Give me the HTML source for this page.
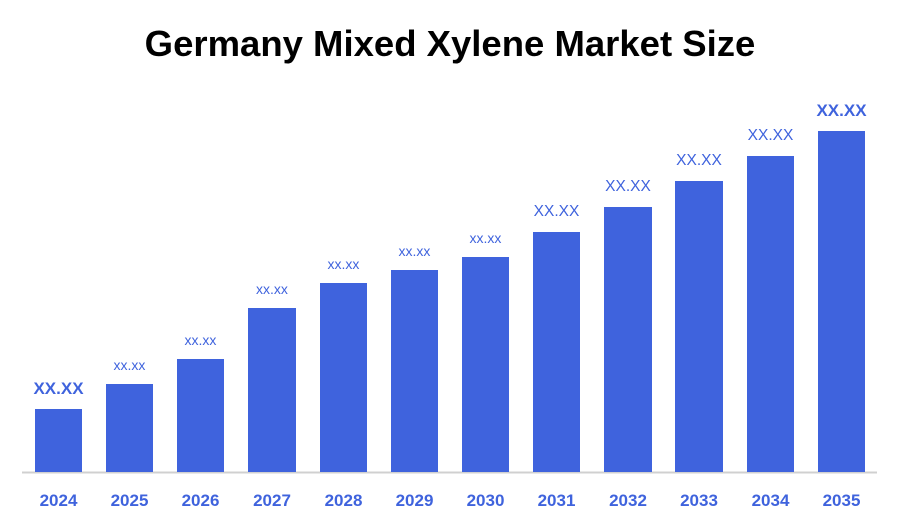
<!DOCTYPE html>
<html><head><style>
body{margin:0;width:900px;height:525px;background:#fff;overflow:hidden;font-family:"Liberation Sans",sans-serif}
</style></head><body>
<svg width="900" height="525" xmlns="http://www.w3.org/2000/svg" font-family="Liberation Sans, sans-serif">
<text x="450" y="56" text-anchor="middle" font-size="36.5" font-weight="bold" fill="#000">Germany Mixed Xylene Market Size</text>
<line x1="22" y1="472.5" x2="877" y2="472.5" stroke="#d0d0d0" stroke-width="2"/>
<g fill="#3F63DD">
<rect x="35" y="409" width="47" height="63"/>
<rect x="106" y="384" width="47" height="88"/>
<rect x="177" y="359" width="47" height="113"/>
<rect x="248" y="308" width="48" height="164"/>
<rect x="320" y="283" width="47" height="189"/>
<rect x="391" y="270" width="47" height="202"/>
<rect x="462" y="257" width="47" height="215"/>
<rect x="533" y="232" width="47" height="240"/>
<rect x="604" y="207" width="48" height="265"/>
<rect x="675" y="181" width="48" height="291"/>
<rect x="747" y="156" width="47" height="316"/>
<rect x="818" y="131" width="47" height="341"/>
</g>
<g fill="#3F63DD" text-anchor="middle">
<text x="58.5" y="394" font-size="17" font-weight="bold">XX.XX</text>
<text x="129.5" y="370" font-size="14">xx.xx</text>
<text x="200.5" y="345" font-size="14">xx.xx</text>
<text x="272" y="294" font-size="14">xx.xx</text>
<text x="343.5" y="269" font-size="14">xx.xx</text>
<text x="414.5" y="256" font-size="14">xx.xx</text>
<text x="485.5" y="243" font-size="14">xx.xx</text>
<text x="556.5" y="216" font-size="15.5">XX.XX</text>
<text x="628" y="191" font-size="15.5">XX.XX</text>
<text x="699" y="165" font-size="15.5">XX.XX</text>
<text x="770.5" y="140" font-size="15.5">XX.XX</text>
<text x="841.5" y="116" font-size="17" font-weight="bold">XX.XX</text>
</g>
<g fill="#3F63DD" text-anchor="middle" font-size="17" font-weight="bold">
<text x="58.5" y="506">2024</text><text x="129.5" y="506">2025</text><text x="200.5" y="506">2026</text>
<text x="272" y="506">2027</text><text x="343.5" y="506">2028</text><text x="414.5" y="506">2029</text>
<text x="485.5" y="506">2030</text><text x="556.5" y="506">2031</text><text x="628" y="506">2032</text>
<text x="699" y="506">2033</text><text x="770.5" y="506">2034</text><text x="841.5" y="506">2035</text>
</g>
</svg>
</body></html>
